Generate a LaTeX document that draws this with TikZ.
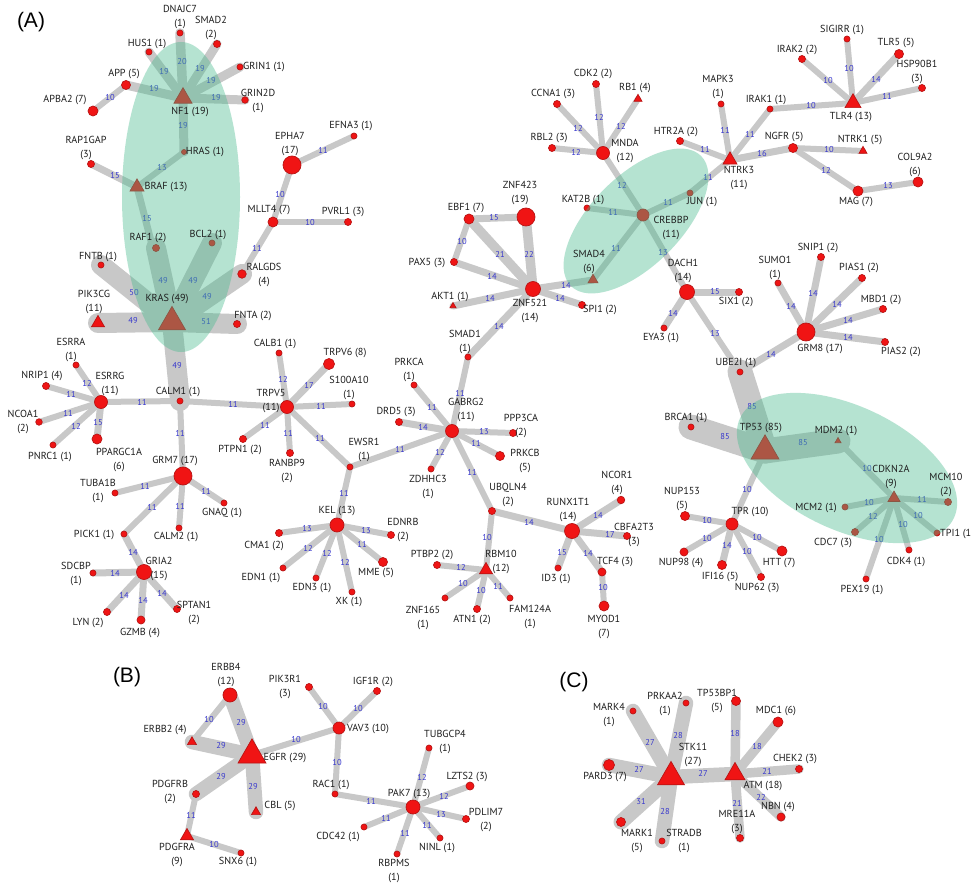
\documentclass[tikz,border=0pt]{standalone}
\usepackage{fontspec}
\setmainfont{PT Sans}
\newfontfamily\panelfont{Liberation Sans}
\usetikzlibrary{shapes.geometric}
\definecolor{nodefill}{RGB}{240,20,20}
\definecolor{nodedraw}{RGB}{185,20,20}
\definecolor{edgec}{RGB}{200,200,200}
\definecolor{elabc}{RGB}{55,55,205}
\definecolor{ellc}{RGB}{72,186,142}
\definecolor{labc}{RGB}{30,30,30}
\pgfdeclarelayer{bg}
\pgfdeclarelayer{edges}
\pgfdeclarelayer{marks}
\pgfdeclarelayer{elabs}
\pgfdeclarelayer{ell}
\pgfsetlayers{bg,edges,marks,elabs,ell,main}
\tikzset{
  cnode/.style={circle, fill=nodefill, draw=nodedraw, line width=0.7pt, inner sep=0pt},
  tnode/.style={regular polygon, regular polygon sides=3, fill=nodefill, draw=nodedraw, line width=0.7pt, inner sep=0pt},
  conn/.style={draw=edgec, line cap=round},
  lab/.style={font=\fontsize{10.2}{13.5}\selectfont, align=center, inner sep=0pt, text=labc},
  elab/.style={font=\fontsize{8.5}{9}\selectfont, text=elabc, inner sep=0pt},
  panel/.style={font=\panelfont\fontsize{21}{24}\selectfont, inner sep=0pt},
  ellipsefill/.style={fill=ellc, fill opacity=0.4}
}
% circle node: name, position, diameter, label position, label text
\newcommand\Nc[5]{\begin{pgfonlayer}{marks}\node[cnode, minimum size=#3pt] (#1) at (#2) {};\end{pgfonlayer}\node[lab] (l#1) at (#4) {#5};}
% triangle node: name, position, side, label position, label text
\newcommand\Nt[5]{\begin{pgfonlayer}{marks}\node[tnode, minimum size=#3*1.1547pt] (#1) at (#2) {};\end{pgfonlayer}\node[lab] (l#1) at (#4) {#5};}
% edge: from, to, width, label, label position
\newcommand\E[5]{\begin{pgfonlayer}{edges}\draw[conn, line width=#3pt] (#1.center) -- (#2.center);\end{pgfonlayer}\begin{pgfonlayer}{elabs}\node[elab] (e#1-#2) at (#5) {#4};\end{pgfonlayer}}
\begin{document}
\begin{tikzpicture}[x=1pt,y=-1pt]
\useasboundingbox (0,0) rectangle (971,885);
\begin{pgfonlayer}{bg}\fill[white] (0,0) rectangle (971,885);\end{pgfonlayer}
\node[panel] (pA) at (31,22) {(A)};
\node[panel] (pB) at (127,677) {(B)};
\node[panel] (pC) at (574,682) {(C)};
% ---------------- Panel A nodes
\Nc{DNAJC7}{180,33}{6}{180,17}{DNAJC7\\(1)}
\Nc{SMAD2}{217,44}{7}{211,28}{SMAD2\\(2)}
\Nc{HUS1}{149,52}{6}{147,44}{HUS1 (1)}
\Nc{GRIN1}{240,67}{6}{264,67}{GRIN1 (1)}
\Nc{APP}{126,85}{9}{124,74}{APP (5)}
\Nc{GRIN2D}{245,100}{6.5}{258,101}{GRIN2D\\(1)}
\Nc{APBA2}{93,111}{10}{65,100}{APBA2 (7)}
\Nt{NF1}{183,98}{18}{190,112}{NF1 (19)}
\Nc{HRAS}{184,152}{5}{205,152}{HRAS (1)}
\Nc{RAP1GAP}{91,164}{7}{86,148}{RAP1GAP\\(3)}
\Nt{BRAF}{137,187}{14}{166,187}{BRAF (13)}
\Nc{EPHA7}{292,165}{18}{290,144}{EPHA7\\(17)}
\Nc{EFNA3}{354,136}{6}{351,126}{EFNA3 (1)}
\Nc{MLLT4}{273,222}{10}{269,210}{MLLT4 (7)}
\Nc{PVRL1}{348,222}{7}{343,212}{PVRL1 (3)}
\Nc{RAF1}{156,248}{7}{148,238}{RAF1 (2)}
\Nc{BCL2}{212,243}{6}{208,235}{BCL2 (1)}
\Nc{FNTB}{101,265}{6}{98,257}{FNTB (1)}
\Nc{RALGDS}{242,274}{8.5}{264,275}{RALGDS\\(4)}
\Nt{KRAS}{172,322}{27}{167,299}{KRAS (49)}
\Nt{PIK3CG}{98,323}{13}{94,302}{PIK3CG\\(11)}
\Nc{FNTA}{237,324}{7}{253,316}{FNTA (2)}
\Nc{ESRRA}{76,365}{6}{71,350}{ESRRA\\(1)}
\Nc{NRIP1}{46,386}{7}{42,376}{NRIP1 (4)}
\Nc{ESRRG}{101,402}{13}{110,384}{ESRRG\\(11)}
\Nc{CALM1}{180,401}{6}{178,392}{CALM1 (1)}
\Nc{CALB1}{279,353}{6}{275,344}{CALB1 (1)}
\Nc{TRPV5}{287,407}{13}{271,401}{TRPV5\\(11)}
\Nc{TRPV6}{329,364}{11}{345,353}{TRPV6 (8)}
\Nc{S100A10}{352,404}{6}{349,388}{S100A10\\(1)}
\Nc{NCOA1}{39,422}{6.5}{23,422}{NCOA1\\(2)}
\Nc{PNRC1}{53,445}{6}{50,457}{PNRC1 (1)}
\Nc{PPARGC1A}{97,439}{10}{119,460}{PPARGC1A\\(6)}
\Nc{GRM7}{183,476}{18}{175,461}{GRM7 (17)}
\Nc{PTPN1}{243,439}{7}{240,450}{PTPN1 (2)}
\Nc{RANBP9}{290,453}{7}{287,471}{RANBP9\\(2)}
\Nc{TUBA1B}{115,493}{6}{98,491}{TUBA1B\\(1)}
\Nc{GNAQ}{224,503}{6}{222,513}{GNAQ (1)}
\Nc{CALM2}{179,528}{6}{176,537}{CALM2 (1)}
\Nc{PICK1}{124,534}{6}{94,535}{PICK1 (1)}
\Nc{GRIA2}{144,572}{15}{159,569}{GRIA2\\(15)}
\Nc{SDCBP}{93,573}{6}{76,574}{SDCBP\\(1)}
\Nc{LYN}{107,612}{7}{88,623}{LYN (2)}
\Nc{GZMB}{141,620}{8}{140,633}{GZMB (4)}
\Nc{SPTAN1}{177,609}{7}{194,613}{SPTAN1\\(2)}
\Nc{KEL}{337,525}{14}{337,511}{KEL (13)}
\Nc{CMA1}{279,533}{7}{264,546}{CMA1 (2)}
\Nc{EDN1}{283,568}{6}{261,578}{EDN1 (1)}
\Nc{EDN3}{316,578}{6}{312,588}{EDN3 (1)}
\Nc{XK}{352,592}{6}{349,602}{XK (1)}
\Nc{MME}{383,562}{9}{376,573}{MME (5)}
\Nc{EDNRB}{391,535}{7}{403,530}{EDNRB\\(2)}
\Nc{EWSR1}{350,467}{6}{364,450}{EWSR1\\(1)}
\Nc{GABRG2}{452,431}{13}{466,410}{GABRG2\\(11)}
\Nc{PRKCA}{414,385}{6}{409,370}{PRKCA\\(1)}
\Nc{SMAD1}{468,357}{6}{465,342}{SMAD1\\(1)}
\Nc{DRD5}{399,422}{7}{396,412}{DRD5 (3)}
\Nc{PPP3CA}{513,433}{7}{521,426}{PPP3CA\\(2)}
\Nc{PRKCB}{500,456}{9}{525,461}{PRKCB\\(5)}
\Nc{ZDHHC3}{431,469}{6}{428,487}{ZDHHC3\\(1)}
\Nc{UBQLN4}{492,511}{7}{508,495}{UBQLN4\\(2)}
\Nc{RUNX1T1}{572,531}{15}{568,510}{RUNX1T1\\(14)}
\Nc{NCOR1}{621,500}{7.5}{617,483}{NCOR1\\(4)}
\Nc{CBFA2T3}{627,536}{7}{634,535}{CBFA2T3\\(3)}
\Nc{ID3}{558,568}{6}{556,579}{ID3 (1)}
\Nc{TCF4}{602,572}{8}{615,562}{TCF4 (3)}
\Nc{MYOD1}{604,606}{10}{604,627}{MYOD1\\(7)}
\Nt{RBM10}{486,570}{13}{501,562}{RBM10\\(12)}
\Nc{PTBP2}{437,565}{7}{432,555}{PTBP2 (2)}
\Nc{ZNF165}{445,598}{6}{423,618}{ZNF165\\(1)}
\Nc{ATN1}{477,609}{7}{472,620}{ATN1 (2)}
\Nc{FAM124A}{510,598}{6}{530,617}{FAM124A\\(1)}
\Nc{ZNF423}{526,217}{18}{520,193}{ZNF423\\(19)}
\Nc{EBF1}{469,219}{10}{466,208}{EBF1 (7)}
\Nc{PAX5}{454,262}{7}{427,263}{PAX5 (3)}
\Nc{ZNF521}{533,289}{15}{530,311}{ZNF521\\(14)}
\Nt{AKT1}{453,306}{6}{450,297}{AKT1 (1)}
\Nc{SPI1}{582,305}{7}{600,310}{SPI1 (2)}
\Nt{SMAD4}{593,280}{10}{589,262}{SMAD4\\(6)}
\Nc{CREBBP}{643,215}{12}{671,228}{CREBBP\\(11)}
\Nc{KAT2B}{587,208}{6}{583,200}{KAT2B (1)}
\Nc{MNDA}{603,153}{13}{625,151}{MNDA\\(12)}
\Nc{CCNA1}{557,104}{7}{553,94}{CCNA1 (3)}
\Nc{CDK2}{596,84}{7}{593,74}{CDK2 (2)}
\Nt{RB1}{638,99}{8}{635,88}{RB1 (4)}
\Nc{RBL2}{552,148}{7}{549,138}{RBL2 (3)}
\Nc{JUN}{690,193}{6}{702,202}{JUN (1)}
\Nt{NTRK3}{730,160}{14}{739,178}{NTRK3\\(11)}
\Nc{HTR2A}{680,141}{7}{676,132}{HTR2A (2)}
\Nc{MAPK3}{721,104}{6}{718,87}{MAPK3\\(1)}
\Nc{IRAK1}{770,109}{6}{766,100}{IRAK1 (1)}
\Nc{NGFR}{793,148}{9}{784,137}{NGFR (5)}
\Nt{NTRK1}{863,151}{8}{860,140}{NTRK1 (5)}
\Nc{MAG}{858,191}{10}{856,202}{MAG (7)}
\Nc{COL9A2}{918,182}{10}{915,165}{COL9A2\\(6)}
\Nt{TLR4}{853,103}{16}{851,117}{TLR4 (13)}
\Nc{IRAK2}{802,59}{7}{797,50}{IRAK2 (2)}
\Nc{SIGIRR}{847,39}{6}{842,30}{SIGIRR (1)}
\Nc{TLR5}{899,54}{9}{896,43}{TLR5 (5)}
\Nc{HSP90B1}{922,88}{7}{917,72}{HSP90B1\\(3)}
\Nc{DACH1}{687,292}{15}{683,271}{DACH1\\(14)}
\Nc{SIX1}{739,292}{7}{736,302}{SIX1 (2)}
\Nc{EYA3}{664,328}{6}{661,338}{EYA3 (1)}
\Nc{UBE2I}{740,372}{6}{736,363}{UBE2I (1)}
\Nc{GRM8}{806,332}{18}{820,349}{GRM8 (17)}
\Nc{SUMO1}{778,283}{6}{775,268}{SUMO1\\(1)}
\Nc{SNIP1}{821,257}{7}{818,248}{SNIP1 (2)}
\Nc{PIAS1}{862,278}{7}{859,268}{PIAS1 (2)}
\Nc{MBD1}{883,309}{7}{881,300}{MBD1 (2)}
\Nc{PIAS2}{885,342}{7}{901,352}{PIAS2 (2)}
\Nt{TP53}{765,451}{28}{761,428}{TP53 (85)}
\Nc{BRCA1}{691,427}{6}{686,418}{BRCA1 (1)}
\Nt{MDM2}{838,441}{6}{836,431}{MDM2 (1)}
\Nt{CDKN2A}{894,498}{12}{891,477}{CDKN2A\\(9)}
\Nc{MCM10}{948,502}{7}{946,485}{MCM10\\(2)}
\Nc{MCM2}{845,507}{6}{816,508}{MCM2 (1)}
\Nc{CDC7}{855,532}{7}{833,543}{CDC7 (3)}
\Nc{PEX19}{866,579}{6}{862,590}{PEX19 (1)}
\Nc{CDK4}{909,550}{6}{906,562}{CDK4 (1)}
\begin{pgfonlayer}{marks}\node[cnode, minimum size=6pt] (TPI1) at (937,533) {};\end{pgfonlayer}
\node[lab, anchor=west] (lTPI1) at (940,534) {TPI1 (1)};
\Nc{TPR}{732,524}{12}{750,512}{TPR (10)}
\Nc{NUP153}{685,516}{9}{682,499}{NUP153\\(5)}
\Nc{NUP98}{684,552}{8}{681,563}{NUP98 (4)}
\Nc{IFI16}{722,565}{9}{720,577}{IFI16 (5)}
\Nc{NUP62}{761,577}{7}{757,588}{NUP62 (3)}
\Nc{HTT}{782,551}{10}{779,563}{HTT (7)}
% ---------------- Panel B nodes
\Nc{ERBB4}{230,695}{14}{226,675}{ERBB4\\(12)}
\Nt{ERBB2}{192,742}{9}{165,730}{ERBB2 (4)}
\Nt{EGFR}{252,755}{28}{285,758}{EGFR (29)}
\Nc{PIK3R1}{309,687}{7}{285,687}{PIK3R1\\(3)}
\Nc{VAV3}{339,728}{12}{368,729}{VAV3 (10)}
\Nc{IGF1R}{377,691}{7}{373,682}{IGF1R (2)}
\Nc{PDGFRB}{196,794}{7}{170,792}{PDGFRB\\(2)}
\Nt{CBL}{256,812}{9}{280,806}{CBL (5)}
\Nt{PDGFRA}{187,836}{13}{177,855}{PDGFRA\\(9)}
\Nc{SNX6}{241,853}{6}{238,862}{SNX6 (1)}
\Nc{RAC1}{335,794}{6}{331,785}{RAC1 (1)}
\Nc{PAK7}{413,807}{14}{409,794}{PAK7 (13)}
\Nc{TUBGCP4}{429,748}{6}{445,742}{TUBGCP4\\(1)}
\Nc{LZTS2}{470,786}{8}{467,777}{LZTS2 (3)}
\Nc{PDLIM7}{466,819}{7}{486,820}{PDLIM7\\(2)}
\Nc{NINL}{440,838}{6}{437,848}{NINL (1)}
\Nc{RBPMS}{397,854}{6}{394,871}{RBPMS\\(1)}
\Nc{CDC42}{364,827}{6}{338,837}{CDC42 (1)}
% ---------------- Panel C nodes
\Nt{STK11}{671,777}{27}{693,755}{STK11\\(27)}
\Nc{MARK4}{633,711}{6}{609,715}{MARK4\\(1)}
\Nc{PRKAA2}{686,703}{6}{665,704}{PRKAA2\\(1)}
\Nc{PARD3}{609,765}{11}{605,777}{PARD3 (7)}
\Nc{MARK1}{621,822}{9}{637,841}{MARK1\\(5)}
\Nc{STRADB}{662,841}{6}{684,841}{STRADB\\(1)}
\Nt{ATM}{735,774}{20}{763,786}{ATM (18)}
\Nc{TP53BP1}{736,701}{9}{717,701}{TP53BP1\\(5)}
\Nc{MDC1}{778,722}{10}{776,711}{MDC1 (6)}
\Nc{CHEK2}{799,769}{7}{795,759}{CHEK2 (3)}
\Nc{NBN}{781,817}{8}{778,807}{NBN (4)}
\Nc{MRE11A}{740,838}{7}{737,822}{MRE11A\\(3)}
% ---------------- Panel A edges
\E{NF1}{DNAJC7}{9.5}{20}{182,62}
\E{NF1}{SMAD2}{9}{19}{200,69}
\E{NF1}{HUS1}{9}{19}{164,72}
\E{NF1}{GRIN1}{9}{19}{211,81}
\E{NF1}{APP}{9}{19}{154,89}
\E{NF1}{GRIN2D}{9}{19}{216,98}
\E{APP}{APBA2}{6}{10}{110,98}
\E{NF1}{HRAS}{9}{19}{183,126}
\E{HRAS}{BRAF}{6}{13}{162,168}
\E{RAP1GAP}{BRAF}{7}{15}{115,176}
\E{BRAF}{KRAS}{7}{15}{147,219}
\E{KRAS}{RAF1}{20}{49}{163,281}
\E{KRAS}{BCL2}{20}{49}{193,281}
\E{KRAS}{FNTB}{20}{50}{134,293}
\E{KRAS}{RALGDS}{20}{49}{207,297}
\E{KRAS}{PIK3CG}{20}{49}{133,321}
\E{KRAS}{FNTA}{20}{51}{206,322}
\E{KRAS}{CALM1}{20}{49}{177,366}
\E{EPHA7}{EFNA3}{6}{11}{323,150}
\E{EPHA7}{MLLT4}{6}{10}{280,195}
\E{MLLT4}{PVRL1}{6}{10}{310,223}
\E{MLLT4}{RALGDS}{6}{11}{257,248}
\E{ESRRG}{ESRRA}{6}{12}{87,383}
\E{ESRRG}{NRIP1}{6}{11}{71,394}
\E{ESRRG}{NCOA1}{6}{11}{68,413}
\E{ESRRG}{PNRC1}{6}{12}{76,426}
\E{ESRRG}{PPARGC1A}{7}{15}{98,423}
\E{ESRRG}{CALM1}{6}{11}{142,402}
\E{CALM1}{TRPV5}{6}{11}{233,404}
\E{CALM1}{GRM7}{6}{11}{180,433}
\E{TRPV5}{CALB1}{6}{12}{283,379}
\E{TRPV5}{TRPV6}{7}{17}{309,385}
\E{TRPV5}{S100A10}{6}{11}{321,406}
\E{TRPV5}{PTPN1}{6}{11}{265,425}
\E{TRPV5}{RANBP9}{6}{11}{288,433}
\E{TRPV5}{EWSR1}{6}{11}{320,438}
\E{GRM7}{TUBA1B}{6}{11}{145,486}
\E{GRM7}{GNAQ}{6}{11}{206,491}
\E{GRM7}{CALM2}{6}{11}{180,506}
\E{GRM7}{PICK1}{6}{11}{152,507}
\E{PICK1}{GRIA2}{7}{14}{133,552}
\E{GRIA2}{SDCBP}{7}{14}{115,573}
\E{GRIA2}{LYN}{7}{14}{124,595}
\E{GRIA2}{GZMB}{7}{14}{143,600}
\E{GRIA2}{SPTAN1}{7}{14}{162,593}
\E{EWSR1}{KEL}{6}{11}{344,493}
\E{EWSR1}{GABRG2}{6}{11}{400,449}
\E{KEL}{CMA1}{6}{13}{307,529}
\E{KEL}{EDN1}{6}{12}{308,548}
\E{KEL}{EDN3}{6}{12}{327,553}
\E{KEL}{XK}{6}{12}{345,562}
\E{KEL}{MME}{6}{11}{362,544}
\E{KEL}{EDNRB}{6}{13}{366,531}
\E{GABRG2}{PRKCA}{6}{11}{432,407}
\E{GABRG2}{SMAD1}{6}{11}{460,393}
\E{GABRG2}{DRD5}{7}{14}{423,427}
\E{GABRG2}{PPP3CA}{6}{13}{484,432}
\E{GABRG2}{PRKCB}{6}{11}{476,443}
\E{GABRG2}{ZDHHC3}{6}{12}{440,452}
\E{GABRG2}{UBQLN4}{6}{11}{472,472}
\E{SMAD1}{ZNF521}{7}{14}{499,326}
\E{UBQLN4}{RUNX1T1}{7}{14}{529,522}
\E{UBQLN4}{RBM10}{6}{10}{487,538}
\E{RUNX1T1}{NCOR1}{7}{14}{598,515}
\E{RUNX1T1}{CBFA2T3}{7}{17}{610,534}
\E{RUNX1T1}{ID3}{7}{15}{562,553}
\E{RUNX1T1}{TCF4}{7}{14}{588,553}
\E{TCF4}{MYOD1}{6}{10}{603,588}
\E{RBM10}{PTBP2}{6}{12}{461,567}
\E{RBM10}{ZNF165}{6}{10}{463,584}
\E{RBM10}{ATN1}{6}{10}{481,591}
\E{RBM10}{FAM124A}{6}{11}{498,586}
\E{ZNF521}{EBF1}{9.5}{21}{500,254}
\E{ZNF521}{ZNF423}{9.5}{22}{529,254}
\E{EBF1}{ZNF423}{7}{15}{494,218}
\E{EBF1}{PAX5}{6}{10}{462,242}
\E{ZNF521}{PAX5}{7}{14}{492,276}
\E{ZNF521}{AKT1}{7}{14}{490,298}
\E{ZNF521}{SPI1}{7}{14}{560,298}
\E{ZNF521}{SMAD4}{7}{14}{566,285}
\E{SMAD4}{CREBBP}{6}{11}{616,248}
\E{CREBBP}{KAT2B}{6}{11}{613,212}
\E{CREBBP}{MNDA}{6}{12}{622,185}
\E{CREBBP}{JUN}{6}{11}{668,202}
\E{CREBBP}{DACH1}{6}{13}{663,253}
\E{MNDA}{CCNA1}{6}{12}{578,128}
\E{MNDA}{CDK2}{6}{12}{599,117}
\E{MNDA}{RB1}{6}{12}{621,126}
\E{MNDA}{RBL2}{6}{12}{576,152}
\E{JUN}{NTRK3}{6}{11}{708,177}
\E{NTRK3}{HTR2A}{6}{11}{705,149}
\E{NTRK3}{MAPK3}{6}{11}{725,130}
\E{NTRK3}{IRAK1}{6}{11}{750,134}
\E{NTRK3}{NGFR}{7}{16}{762,154}
\E{IRAK1}{TLR4}{6}{10}{811,106}
\E{TLR4}{IRAK2}{6}{10}{828,81}
\E{TLR4}{SIGIRR}{6}{10}{849,69}
\E{TLR4}{TLR5}{7}{14}{876,79}
\E{TLR4}{HSP90B1}{6}{11}{887,96}
\E{NGFR}{NTRK1}{6}{10}{829,150}
\E{NGFR}{MAG}{6}{12}{826,170}
\E{MAG}{COL9A2}{6}{13}{888,186}
\E{DACH1}{SIX1}{7}{15}{715,292}
\E{DACH1}{EYA3}{7}{14}{673,313}
\E{DACH1}{UBE2I}{6}{13}{715,334}
\E{UBE2I}{GRM8}{7}{14}{771,354}
\E{UBE2I}{TP53}{25}{85}{752,407}
\E{GRM8}{SUMO1}{7}{14}{791,306}
\E{GRM8}{SNIP1}{7}{14}{813,293}
\E{GRM8}{PIAS1}{7}{14}{837,304}
\E{GRM8}{MBD1}{7}{14}{848,320}
\E{GRM8}{PIAS2}{7}{14}{848,337}
\E{TP53}{BRCA1}{25}{85}{725,437}
\E{TP53}{MDM2}{25}{85}{803,443}
\E{TP53}{TPR}{6}{10}{747,490}
\E{MDM2}{CDKN2A}{6}{10}{867,469}
\E{CDKN2A}{MCM10}{6}{11}{922,499}
\E{CDKN2A}{MCM2}{6}{10}{869,503}
\E{CDKN2A}{CDC7}{6}{12}{873,516}
\E{CDKN2A}{PEX19}{6}{10}{879,540}
\E{CDKN2A}{CDK4}{6}{10}{903,525}
\E{CDKN2A}{TPI1}{6}{10}{918,516}
\E{TPR}{NUP153}{6}{10}{707,521}
\E{TPR}{NUP98}{6}{10}{707,539}
\E{TPR}{IFI16}{7}{14}{727,545}
\E{TPR}{NUP62}{6}{10}{747,552}
\E{TPR}{HTT}{6}{10}{757,538}
% ---------------- Panel B edges
\E{EGFR}{ERBB4}{14.5}{29}{241,723}
\E{EGFR}{ERBB2}{14.5}{29}{221,746}
\E{EGFR}{PDGFRB}{14.5}{29}{221,777}
\E{EGFR}{CBL}{14.5}{29}{253,787}
\E{EGFR}{VAV3}{6}{10}{296,740}
\E{ERBB4}{ERBB2}{6}{10}{209,720}
\E{PDGFRB}{PDGFRA}{6}{11}{191,815}
\E{PDGFRA}{SNX6}{6}{10}{214,845}
\E{VAV3}{PIK3R1}{6}{10}{323,707}
\E{VAV3}{IGF1R}{6}{10}{358,709}
\E{VAV3}{RAC1}{6}{10}{337,763}
\E{RAC1}{PAK7}{6}{11}{371,801}
\E{PAK7}{TUBGCP4}{6}{12}{422,777}
\E{PAK7}{LZTS2}{6}{12}{444,796}
\E{PAK7}{PDLIM7}{6}{13}{441,815}
\E{PAK7}{NINL}{6}{11}{427,825}
\E{PAK7}{RBPMS}{6}{11}{405,833}
\E{PAK7}{CDC42}{6}{11}{386,818}
% ---------------- Panel C edges
\E{STK11}{MARK4}{14.5}{27}{650,742}
\E{STK11}{PRKAA2}{14.5}{28}{678,736}
\E{STK11}{PARD3}{14.5}{27}{639,769}
\E{STK11}{MARK1}{15}{31}{641,802}
\E{STK11}{STRADB}{14.5}{28}{665,812}
\E{STK11}{ATM}{14.5}{27}{703,773}
\E{ATM}{TP53BP1}{9.5}{18}{735,734}
\E{ATM}{MDC1}{9.5}{18}{757,747}
\E{ATM}{CHEK2}{9.5}{21}{767,771}
\E{ATM}{NBN}{9.5}{22}{761,797}
\E{ATM}{MRE11A}{9.5}{21}{737,803}
% ---------------- highlight ellipses
\begin{pgfonlayer}{ell}
\fill[ellipsefill] (181,197) ellipse [x radius=59pt, y radius=155pt];
\fill[ellipsefill, rotate around={45:(636,221)}] (636,221) ellipse [x radius=92pt, y radius=45pt];
\fill[ellipsefill, rotate around={-25:(847,468)}] (847,468) ellipse [x radius=118pt, y radius=62pt];
\end{pgfonlayer}
\end{tikzpicture}
\end{document}
